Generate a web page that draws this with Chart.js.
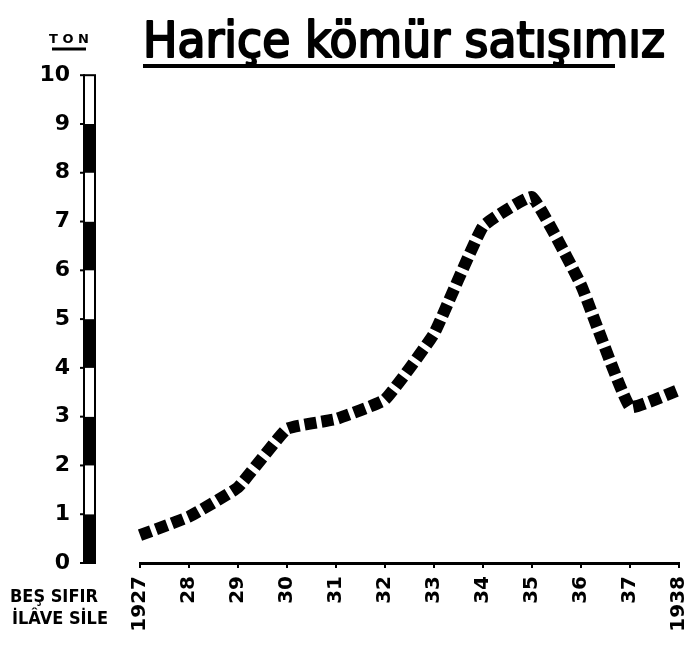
<!DOCTYPE html>
<html lang="tr">
<head>
    <meta charset="UTF-8">
    <title>Hariçe kömür satışımız</title>
    <script src="https://cdn.jsdelivr.net/npm/chart.js"></script>
    <style>
        body { margin: 0; background: #fff; }
    </style>
</head>
<body>
    <canvas id="myChart" width="693" height="645"></canvas>

    <script>
        // yıllar ve satış (ton, beş sıfır ilave edilecek)
        const years = ['1927', '28', '29', '30', '31', '32', '33', '34', '35', '36', '37', '1938'];
        const tonnage = [0.57, 0.95, 1.55, 2.75, 2.95, 3.35, 4.7, 6.9, 7.5, 5.7, 3.2, 3.55];
        const yMin = 0;
        const yMax = 10;

        const titleText = 'Hariçe kömür satışımız';
        const unitText = 'TON';
        const noteLines = ['BEŞ SIFIR', 'İLÂVE SİLE'];

        // striped scale bar + texts
        const decorPlugin = {
            id: 'decor',
            beforeDatasetsDraw(chart) {
                const ctx = chart.ctx;
                const ys = chart.scales.y;
                ctx.save();
                for (let i = yMin; i < yMax; i++) {
                    const top = ys.getPixelForValue(i + 1);
                    const bot = ys.getPixelForValue(i);
                    ctx.fillStyle = (i % 2 === 0) ? '#000' : '#fff';
                    ctx.fillRect(84, top, 11, bot - top);
                }
                ctx.strokeStyle = '#000';
                ctx.lineWidth = 2;
                ctx.strokeRect(84, ys.getPixelForValue(yMax), 11, ys.getPixelForValue(yMin) - ys.getPixelForValue(yMax));
                for (let i = yMin; i <= yMax; i++) {
                    const y = ys.getPixelForValue(i);
                    ctx.beginPath();
                    ctx.moveTo(80, y);
                    ctx.lineTo(85, y);
                    ctx.stroke();
                }
                ctx.restore();
            },
            afterDraw(chart) {
                const ctx = chart.ctx;
                ctx.save();
                ctx.fillStyle = '#000';
                ctx.strokeStyle = '#000';

                // title, squeezed into its width
                ctx.font = '48px "DejaVu Sans Condensed", "DejaVu Sans", sans-serif';
                const w = ctx.measureText(titleText).width;
                const target = 522;
                ctx.textBaseline = 'alphabetic';
                ctx.textAlign = 'left';
                ctx.save();
                ctx.translate(143, 57);
                ctx.scale(target / w, 1.05);
                ctx.fillText(titleText, 0, 0);
                ctx.lineWidth = 2;
                ctx.lineJoin = 'round';
                ctx.strokeText(titleText, 0, 0);
                ctx.restore();
                ctx.lineWidth = 4;
                ctx.beginPath();
                ctx.moveTo(143, 66);
                ctx.lineTo(615, 66);
                ctx.stroke();

                // unit
                ctx.font = 'bold 13px "DejaVu Sans", sans-serif';
                ctx.textAlign = 'center';
                ctx.fillText(unitText.split('').join(' '), 69, 43);
                ctx.lineWidth = 3;
                ctx.beginPath();
                ctx.moveTo(52, 49);
                ctx.lineTo(86, 49);
                ctx.stroke();

                // note under the scale
                ctx.font = 'bold 18px "Liberation Sans Narrow", "DejaVu Sans Condensed", sans-serif';
                ctx.textAlign = 'left';
                ctx.fillText(noteLines[0], 10, 602);
                ctx.fillText(noteLines[1], 12, 624);
                ctx.restore();
            }
        };

        const ctx = document.getElementById('myChart').getContext('2d');
        const myChart = new Chart(ctx, {
            type: 'line',
            data: {
                labels: years,
                datasets: [{
                    label: 'Ton',
                    data: tonnage,
                    borderColor: '#000',
                    borderWidth: 12,
                    borderDash: [12, 5],
                    borderCapStyle: 'butt',
                    borderJoinStyle: 'miter',
                    tension: 0.1,
                    pointRadius: 0,
                    fill: false
                }]
            },
            options: {
                responsive: false,
                animation: false,
                devicePixelRatio: 1,
                layout: { padding: { left: 0, right: 14, top: 75, bottom: 0 } },
                plugins: {
                    legend: { display: false },
                    tooltip: { enabled: false },
                    title: { display: false }
                },
                scales: {
                    x: {
                        offset: false,
                        grid: { display: true, drawOnChartArea: false, drawTicks: true, tickLength: 5, color: '#000', lineWidth: 2 },
                        border: { display: true, color: '#000', width: 3 },
                        ticks: {
                            autoSkip: false,
                            maxRotation: 90,
                            minRotation: 90,
                            padding: 8,
                            color: '#000',
                            font: { family: '"DejaVu Sans", sans-serif', size: 20, weight: 'bold' }
                        },
                        afterFit: scale => {
                            scale.height = 82;
                            scale.paddingLeft = 0;
                            scale.paddingRight = 0;
                        }
                    },
                    y: {
                        min: yMin,
                        max: yMax,
                        grid: { display: false },
                        border: { display: false },
                        ticks: {
                            stepSize: 1,
                            padding: 62,
                            color: '#000',
                            font: { family: '"DejaVu Sans", sans-serif', size: 22, weight: 'bold' }
                        },
                        afterFit: scale => { scale.width = 140; }
                    }
                }
            },
            plugins: [decorPlugin]
        });
    </script>
</body>
</html>
